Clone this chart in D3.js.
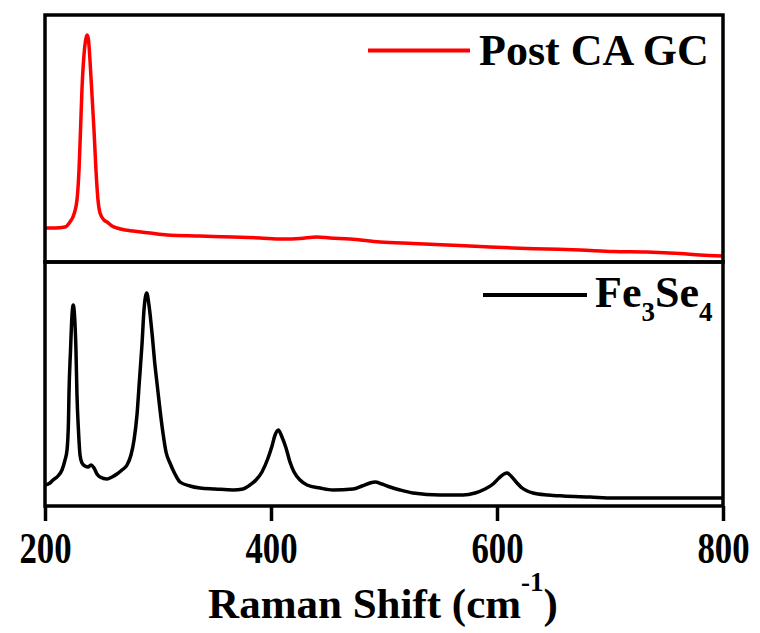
<!DOCTYPE html>
<html><head><meta charset="utf-8">
<script src="https://cdn.jsdelivr.net/npm/d3@7"></script>
<style>body{margin:0;background:#fff}svg{display:block}</style>
</head><body>
<script>
// Raman shift (cm-1) and intensity (a.u.)
const postCA_x = [200,208.9,217.7,222.1,225.7,228.3,230.1,231.4,232.7,234.5,236.3,237.4,238.5,239.8,241.6,243.4,245.1,246.9,248.7,252.2,254.9,259.3,263.7,270.8,277.9,292.9,308,337.2,366.4,390.3,410.6,425.7,440.7,452.2,469.9,496.5,525.7,555.8,585,614.2,644.3,673.5,702.7,732.8,762,779.7,799.1];
const postCA_y = [340,340,350,400,480,620,920,1310,1720,2070,2240,2270,2220,2020,1670,1310,920,620,490,420,400,360,340,320,310,290,270,260,250,240,230,235,250,240,230,200,185,170,155,140,130,120,105,100,85,70,60];
const fe_x = [200,204.4,207.1,211.5,215,217.7,219.5,220.8,221.2,222.6,223.9,225,226.1,227.4,228.3,229.6,231,232.7,235.4,238.1,240.7,243.4,246,248.7,254.9,259.3,263.7,268.1,272.6,276.1,278.8,281.4,283.6,285.8,287.6,290,292,294.7,297.3,299.1,301.8,304.4,307.1,310.6,315,319.5,328.3,337.2,350.5,366.4,375.2,381.4,386.7,392,397.4,400.9,403.6,406.5,409.7,413.3,416.8,420.4,425.7,431.9,443.4,454.9,472.6,480.5,487.6,492.1,498.2,505.3,514.2,525.7,549.6,569.9,580.6,589.4,596.5,601.8,606.2,608.9,612.4,616.9,622.2,631.9,645.2,658.5,682.4,702.7,735.5,770.9,799.1];
const fe_y = [210,230,260,300,360,460,560,860,1110,1560,1910,2010,1910,1560,1110,760,510,430,400,390,410,380,320,290,270,290,320,360,410,510,660,910,1260,1610,1960,2130,2010,1730,1410,1230,960,730,540,430,320,240,200,180,170,160,170,210,260,340,480,600,710,760,690,580,440,340,260,210,180,160,170,200,230,240,220,190,160,130,110,110,130,170,220,280,320,330,300,240,180,130,110,100,90,80,80,80,80];
const xTicks = [200,400,600,800];
const legendLabels = ["Post CA GC","Fe3Se4"];
const axisTitle = "Raman Shift (cm";

const W=760,H=633, L=45, R=723, T=15, MID=262, B=506;
const font='"Liberation Serif","Times New Roman",serif';
const svg=d3.select("body").append("svg").attr("width",W).attr("height",H);
const x=d3.scaleLinear().domain([200,800]).range([L,R]);
const yTop=d3.scaleLinear().domain([0,2470]).range([MID,T]);
const yBot=d3.scaleLinear().domain([0,2440]).range([B,MID]);

const defs=svg.append("defs");
defs.append("clipPath").attr("id","cTop").append("rect").attr("x",L).attr("y",T).attr("width",R-L).attr("height",MID-T);
defs.append("clipPath").attr("id","cBot").append("rect").attr("x",L).attr("y",MID).attr("width",R-L).attr("height",B-MID);

const topData=postCA_x.map((v,i)=>[v,postCA_y[i]]);
const botData=fe_x.map((v,i)=>[v,fe_y[i]]);
const lineTop=d3.line().x(d=>x(d[0])).y(d=>yTop(d[1])).curve(d3.curveMonotoneX);
const lineBot=d3.line().x(d=>x(d[0])).y(d=>yBot(d[1])).curve(d3.curveMonotoneX);
svg.append("path").datum(topData).attr("d",lineTop).attr("fill","none").attr("stroke","#ff0000").attr("stroke-width",3.5).attr("stroke-linejoin","round").attr("clip-path","url(#cTop)");
svg.append("path").datum(botData).attr("d",lineBot).attr("fill","none").attr("stroke","#000").attr("stroke-width",3.5).attr("stroke-linejoin","round").attr("clip-path","url(#cBot)");

// frames
svg.append("rect").attr("x",L).attr("y",T).attr("width",R-L).attr("height",MID-T).attr("fill","none").attr("stroke","#000").attr("stroke-width",3.5);
svg.append("rect").attr("x",L).attr("y",MID).attr("width",R-L).attr("height",B-MID).attr("fill","none").attr("stroke","#000").attr("stroke-width",3.5);

// x axis
const ax=svg.append("g").attr("transform",`translate(0,${B})`).call(d3.axisBottom(x).tickValues(xTicks).tickSize(15).tickSizeOuter(0).tickFormat(d3.format("d")));
ax.select(".domain").remove();
ax.selectAll(".tick line").attr("stroke","#000").attr("stroke-width",3.5);
ax.selectAll(".tick text").attr("y",0).attr("dy",0).attr("transform","translate(0,57) scale(0.79,1)")
  .attr("font-family",font).attr("font-weight","bold").attr("font-size",44).attr("fill","#000");

// axis title
const t=svg.append("text").attr("x",383).attr("y",618).attr("text-anchor","middle")
  .attr("font-family",font).attr("font-weight","bold").attr("font-size",43).attr("fill","#000");
t.append("tspan").text(axisTitle);
t.append("tspan").attr("font-size",27).attr("dy",-27).text("-1");
t.append("tspan").attr("dy",27).text(")");

// legends
svg.append("line").attr("x1",368).attr("x2",470).attr("y1",50.5).attr("y2",50.5).attr("stroke","#ff0000").attr("stroke-width",4);
svg.append("text").attr("x",479).attr("y",65).attr("font-family",font).attr("font-weight","bold").attr("font-size",44).attr("fill","#000").text(legendLabels[0]);
svg.append("line").attr("x1",483).attr("x2",587).attr("y1",295).attr("y2",295).attr("stroke","#000").attr("stroke-width",4);
const l2=svg.append("text").attr("x",595).attr("y",307).attr("font-family",font).attr("font-weight","bold").attr("font-size",44).attr("fill","#000");
l2.append("tspan").text("Fe");
l2.append("tspan").attr("font-size",27).attr("dy",14).text("3");
l2.append("tspan").attr("dy",-14).text("Se");
l2.append("tspan").attr("font-size",27).attr("dy",14).text("4");
</script>
</body></html>
